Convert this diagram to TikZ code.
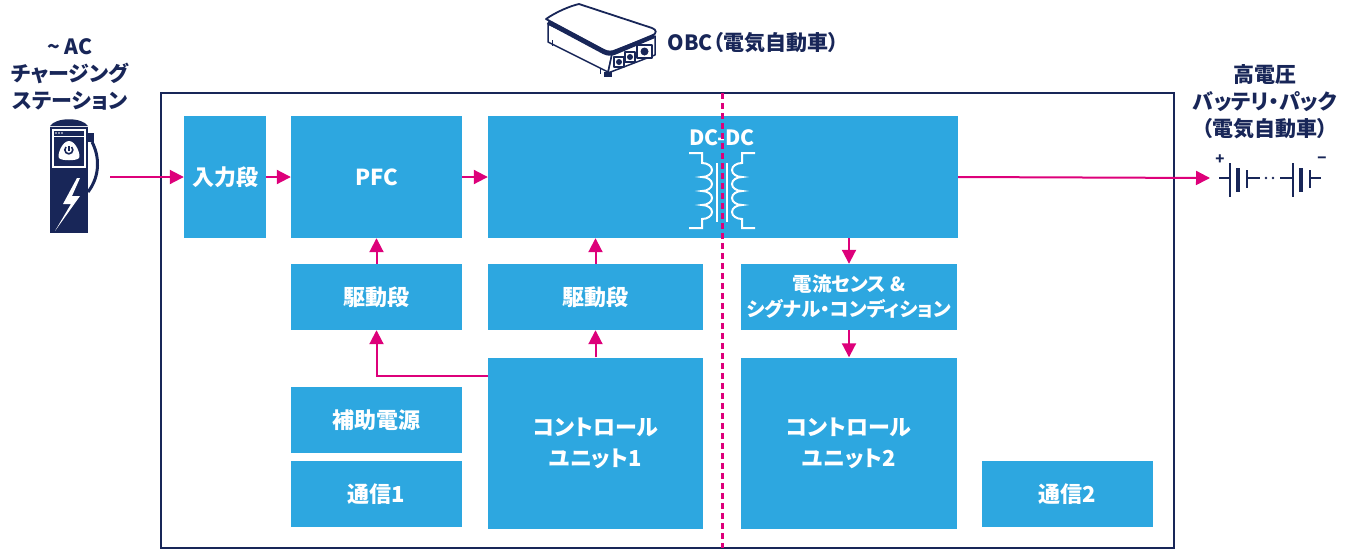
\documentclass[tikz,border=0pt]{standalone}
\usepackage{fontspec}
\setmainfont{Noto Sans CJK JP}[RawFeature=+palt]
\usetikzlibrary{arrows.meta}

\definecolor{obcblue}{RGB}{45,167,224}
\definecolor{obcnavy}{RGB}{24,38,88}
\definecolor{obcpink}{RGB}{221,0,122}

\tikzset{
  blk/.style={fill=obcblue, text=white, inner sep=0pt, align=center,
    font=\bfseries\fontsize{22}{31}\selectfont},
  arr/.style={draw=obcpink, line width=2pt, -{Triangle[length=14pt,width=14pt]}},
  lbl/.style={text=obcnavy, align=center, font=\bfseries\fontsize{21}{27}\selectfont},
  coil/.style={draw=white, line width=2pt},
}

\begin{document}
\begin{tikzpicture}[x=1pt,y=-1pt]
\useasboundingbox (0,0) rectangle (1363,550);

% outer frame of the charger
\draw[obcnavy, line width=2pt] (161,93) rectangle (1174,548);

% function blocks
\node[blk, minimum width=82pt,  minimum height=122pt] (inp)   at (225,177)    {入力段};
\node[blk, minimum width=171pt, minimum height=122pt] (pfc)   at (376.5,177)  {PFC};
\node[blk, minimum width=470pt, minimum height=122pt] (dcdc)  at (723,177)    {};
\node[blk, minimum width=171pt, minimum height=66pt]  (drv1)  at (376.5,297)  {駆動段};
\node[blk, minimum width=215pt, minimum height=66pt]  (drv2)  at (595.5,297)  {駆動段};
\node[blk, minimum width=216pt, minimum height=66pt, font=\bfseries\fontsize{19.5}{25}\selectfont]
  (sense) at (849,297) {電流センス \&\\シグナル・コンディション};
\node[blk, minimum width=215pt, minimum height=171pt] (ctrl1) at (595.5,443)  {コントロール\\ユニット1};
\node[blk, minimum width=216pt, minimum height=171pt] (ctrl2) at (849,443)    {コントロール\\ユニット2};
\node[blk, minimum width=171pt, minimum height=66pt]  (aux)   at (376.5,420)  {補助電源};
\node[blk, minimum width=171pt, minimum height=66pt]  (com1)  at (376.5,494)  {通信1};
\node[blk, minimum width=171pt, minimum height=66pt]  (com2)  at (1067.5,494) {通信2};

% transformer symbol inside DC-DC
\node[text=white, font=\bfseries\fontsize{21}{24}\selectfont] (dclbl) at (722,138) {DC-DC};
\draw[coil] (689,153) -- (702,153) -- (702,163)
  \foreach \k in {0,1,2,3} { arc (90:-90:10pt and 7pt) } -- (702,228) -- (689,228);
\draw[coil] (755,153) -- (742,153) -- (742,163)
  \foreach \k in {0,1,2,3} { arc (90:270:10pt and 7pt) } -- (742,228) -- (755,228);
\draw[coil] (717,163) -- (717,222);
\draw[coil] (727,163) -- (727,222);

% isolation line
\draw[obcpink, line width=3pt, dash pattern=on 6pt off 4pt] (722,93) -- (722,548);

% charging station
\begin{scope}[obcnavy]
  \fill (50,126) .. controls (56,117) and (82,117) .. (88,126) -- cycle;
  \fill (50,127) rectangle (88,233);
  \draw[white, line width=1.2pt] (53,130) rectangle (85,167);
  \draw[white, line width=1pt] (53,136) -- (85,136);
  \foreach \d in {56,59,62} \fill[white] (\d,133) circle (0.9pt);
  \fill[white] (69,141) .. controls (62,141) and (57,155) .. (59,158)
    .. controls (61,161) and (77,161) .. (79,158) .. controls (81,155) and (76,141) .. (69,141) -- cycle;
  \draw[obcnavy, line width=1.6pt] (69,146) -- (69,151);
  \draw[obcnavy, line width=1.6pt] (66,147) arc (135:405:4pt);
  \fill (88,133) rectangle (94,142);
  \draw[line width=3pt] (92,142) .. controls (99,155) and (101,175) .. (88,192);
  \fill[white] (77,178) -- (63,204) -- (71,204) -- (55,231) -- (80,196) -- (72,196) -- (80,178) -- cycle;
\end{scope}
\node[lbl] (aclbl) at (70,74) {\textasciitilde{} AC\\チャージング\\ステーション};
\coordinate (acout) at (110,177);

% on-board charger unit
\begin{scope}[obcnavy, line join=round]
  \filldraw[fill=white, line width=1.5pt] (548,24) -- (548,42) -- (608,72) -- (612,54) -- cycle;
  \filldraw[fill=white, line width=1.5pt] (612,54) -- (655,36) -- (655,55) -- (608,73) -- cycle;
  \filldraw[fill=white, line width=1.8pt] (546,19) .. controls (556,12) and (570,6) .. (579,4)
    -- (652,28) .. controls (657,30) and (657,33) .. (652,36) -- (616,50)
    .. controls (612,52) and (608,52) .. (604,50) -- cycle;
  \draw[line width=4.5pt] (548,22) -- (604,52) .. controls (608,54) and (612,54) .. (616,52) -- (654,36);
  \foreach \px/\py in {619/62,630/57} {
    \filldraw[fill=white, line width=1.2pt] (\px-5,\py-5) rectangle (\px+5,\py+5);
    \fill (\px,\py) circle (3pt);
  }
  \filldraw[fill=white, line width=1.2pt] (637,45) rectangle (652,58);
  \fill (644.5,51.5) circle (4pt);
  \fill (604,72) rectangle (612,77);
  \draw[line width=1pt] (552,40) -- (552,46) (600,68) -- (600,74);
\end{scope}
\node[lbl, anchor=west] (obclbl) at (664,43) {OBC（電気自動車）};

% high voltage battery
\node[lbl] (battlbl) at (1265,102) {高電圧\\バッテリ・パック\\（電気自動車）};
\coordinate (batt) at (1210,178);
\begin{scope}[obcnavy, line width=2.2pt]
  \draw (1219,178) -- (1230,178);
  \draw (1230,163) -- (1230,197);
  \draw[line width=4pt] (1238,168) -- (1238,192);
  \draw (1247,170) -- (1247,188);
  \draw (1247,178) -- (1260,178);
  \fill (1266,178) circle (1.3pt) (1273,178) circle (1.3pt);
  \draw (1280,178) -- (1293,178);
  \draw (1293,163) -- (1293,197);
  \draw[line width=4pt] (1301,168) -- (1301,192);
  \draw (1310,170) -- (1310,188);
  \draw (1310,178) -- (1321,178);
\end{scope}
\node[text=obcnavy, font=\bfseries\fontsize{15}{15}\selectfont] (bplus) at (1220,160) {+};
\node[text=obcnavy, font=\bfseries\fontsize{15}{15}\selectfont] (bminus) at (1322,160) {−};

% signal flow
\draw[arr] (acout) -- (inp.west);
\draw[arr] (inp) -- (pfc);
\draw[arr] (pfc) -- (dcdc.west);
\draw[arr] (dcdc.east) -- (batt);
\draw[arr] (drv1) -- (pfc);
\draw[arr] (drv2) -- (drv2 |- dcdc.south);
\draw[arr] (ctrl1) -- (drv2);
\coordinate (c1tap) at (488,376);
\draw[arr] (c1tap) -| (drv1.south);
\draw[arr] (sense |- dcdc.south) -- (sense);
\draw[arr] (sense) -- (ctrl2);
\end{tikzpicture}
\end{document}
